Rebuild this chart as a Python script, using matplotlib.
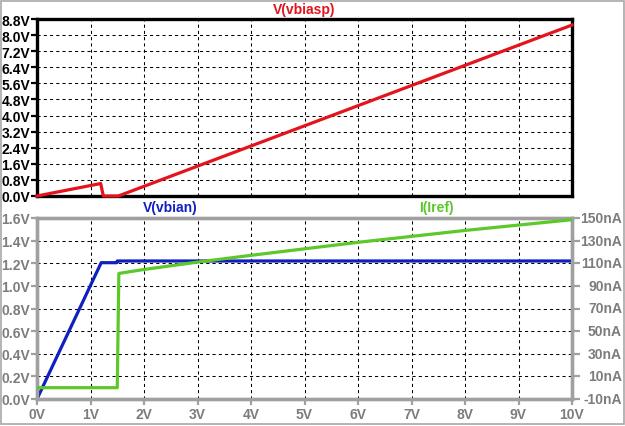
import matplotlib
matplotlib.use("Agg")
import matplotlib.pyplot as plt
from matplotlib.patches import Rectangle
from matplotlib.transforms import blended_transform_factory

# ---- data ----
x_ticks = [0, 1, 2, 3, 4, 5, 6, 7, 8, 9, 10]
x_tick_labels = ["0V", "1V", "2V", "3V", "4V", "5V", "6V", "7V", "8V", "9V", "10V"]

top_ticks = [0.0, 0.8, 1.6, 2.4, 3.2, 4.0, 4.8, 5.6, 6.4, 7.2, 8.0, 8.8]
top_tick_labels = ["0.0V", "0.8V", "1.6V", "2.4V", "3.2V", "4.0V", "4.8V", "5.6V",
                   "6.4V", "7.2V", "8.0V", "8.8V"]
left_ticks = [0.0, 0.2, 0.4, 0.6, 0.8, 1.0, 1.2, 1.4, 1.6]
left_tick_labels = ["0.0V", "0.2V", "0.4V", "0.6V", "0.8V", "1.0V", "1.2V", "1.4V", "1.6V"]
right_ticks = [-10, 10, 30, 50, 70, 90, 110, 130, 150]
right_tick_labels = ["-10nA", "10nA", "30nA", "50nA", "70nA", "90nA", "110nA", "130nA", "150nA"]

vbiasp_x = [0.0, 1.19, 1.24, 1.52, 10.0]
vbiasp_y = [0.0, 0.62, 0.0, 0.0, 8.5]

vbian_x = [0.0, 1.2, 1.49, 1.5, 10.0]
vbian_y = [0.0, 1.205, 1.205, 1.22, 1.22]

iref_x = [0.0, 1.5, 1.53, 2.0, 3.0, 4.0, 6.0, 8.0, 10.0]
iref_y = [0.0, 0.0, 101.0, 104.5, 111.0, 117.0, 128.5, 139.0, 148.5]

RED = "#e3141c"
BLUE = "#1020c0"
GREEN = "#5cc82a"
GRAY_FRAME = "#a0a0a0"
GRAY_TEXT = "#7c7c7c"

W, H = 625, 427
fig = plt.figure(figsize=(W / 100, H / 100), dpi=100)
fig.patch.set_facecolor("white")

font = dict(family=["Liberation Sans", "DejaVu Sans"], weight="bold", size=10)

def px_axes(x0, y0, x1, y1):
    return fig.add_axes([x0 / W, 1 - y1 / H, (x1 - x0) / W, (y1 - y0) / H])

grid_kw = dict(color="black", linewidth=0.75, linestyle=(0, (3, 3)), zorder=1)

# ---- top panel ----
ax1 = px_axes(37, 20, 572, 197)
ax1.set_xlim(0, 10)
ax1.set_ylim(0, 8.8)
for v in x_ticks[1:-1]:
    ax1.axvline(v, **grid_kw)
for v in top_ticks[1:-1]:
    ax1.axhline(v, **grid_kw)
ax1.plot(vbiasp_x, vbiasp_y, color=RED, lw=2.3, zorder=5, clip_on=False)
ax1.set_xticks([])
ax1.set_yticks(top_ticks)
ax1.set_yticklabels(top_tick_labels, **font)
ax1.tick_params(axis="y", direction="out", length=4, width=1.6, color="black",
                pad=1, labelcolor="black")
for s in ax1.spines.values():
    s.set_linewidth(2.4)
    s.set_color("black")
    s.set_zorder(4)
ax1.text(0.5, 1.0 + 10 / 177, "V(vbiasp)", transform=ax1.transAxes, ha="center",
         va="center", color=RED, **font)

# ---- bottom panel ----
ax2 = px_axes(37, 219, 572, 400)
ax2.set_xlim(0, 10)
ax2.set_ylim(0, 1.6)
for v in x_ticks[1:-1]:
    ax2.axvline(v, **grid_kw)
for v in left_ticks[1:-1]:
    ax2.axhline(v, **grid_kw)
ax2.plot(vbian_x, vbian_y, color=BLUE, lw=2.3, zorder=3)
ax2.set_xticks(x_ticks)
ax2.set_xticklabels(x_tick_labels, **font)
ax2.set_yticks(left_ticks)
ax2.set_yticklabels(left_tick_labels, **font)
ax2.tick_params(axis="both", direction="out", length=4, width=1.6, color=GRAY_FRAME,
                pad=1, labelcolor=GRAY_TEXT)
ax2.tick_params(axis="x", pad=2)
for s in ax2.spines.values():
    s.set_linewidth(2.4)
    s.set_color(GRAY_FRAME)

ax3 = ax2.twinx()
ax3.set_ylim(-10, 150)
ax3.plot(iref_x, iref_y, color=GREEN, lw=2.3, zorder=3)
ax3.set_yticks(right_ticks)
ax3.set_yticklabels([])
ax3.tick_params(axis="y", direction="out", length=6, width=1.6, color=GRAY_FRAME)
rt = blended_transform_factory(ax3.transAxes, ax3.transData)
for v, lab in zip(right_ticks, right_tick_labels):
    ax3.text(1.0 + 50 / 535, v, lab, transform=rt, ha="right", va="center",
             color=GRAY_TEXT, clip_on=False, **font)
for s in ax3.spines.values():
    s.set_linewidth(2.4)
    s.set_color(GRAY_FRAME)
ax2.set_zorder(1)
ax3.set_zorder(2)
ax3.patch.set_visible(False)

ax2.text((170 - 37) / 535, 1.0 + 11 / 181, "V(vbian)", transform=ax2.transAxes,
         ha="center", va="center", color=BLUE, **font)
ax2.text((436 - 37) / 535, 1.0 + 11 / 181, "I(Iref)", transform=ax2.transAxes,
         ha="center", va="center", color=GREEN, **font)

# window border
fig.patches.append(Rectangle((0.5 / W, 2.5 / H), (W - 2) / W, (H - 4) / H,
                             transform=fig.transFigure, fill=False,
                             edgecolor="#a8a8a8", linewidth=1.2))

fig.savefig("out.png", dpi=100, facecolor="white")
